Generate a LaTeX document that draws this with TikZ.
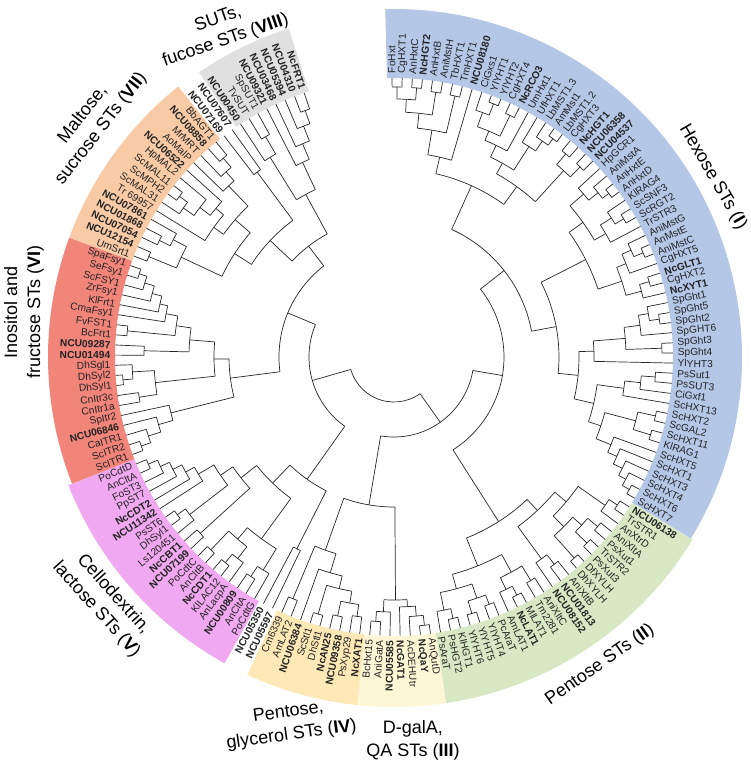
\documentclass[tikz,border=0pt]{standalone}
\usepackage{fontspec}
\setmainfont{Liberation Sans}
\definecolor{cHex}{RGB}{180,199,231}
\definecolor{cPen}{RGB}{216,232,196}
\definecolor{cGal}{RGB}{254,247,214}
\definecolor{cPgl}{RGB}{253,232,182}
\definecolor{cCel}{RGB}{240,168,240}
\definecolor{cIno}{RGB}{242,133,122}
\definecolor{cMal}{RGB}{248,202,165}
\definecolor{cSut}{RGB}{224,224,224}
\definecolor{cTxt}{RGB}{35,35,35}
\tikzset{
  br/.style={draw=black!85,line width=0.7pt},
  lbl/.style={font=\fontsize{10.2}{12}\selectfont,text=cTxt,inner sep=0.6pt},
  grp/.style={font=\fontsize{18}{23}\selectfont,align=center,text=black,inner sep=0pt}
}
% clade: name, radius, children (in leaf order)
\newcommand\cl[3]{%
  \gdef\clF{}%
  \foreach \q in {#3}{%
    \edef\qA{\csname TA\q\endcsname}%
    \edef\qR{\csname TR\q\endcsname}%
    \draw[br] (\qA:#2) -- (\qA:\qR);
    \ifx\clF\empty\xdef\clF{\qA}\fi
    \xdef\clL{\qA}%
  }%
  \draw[br] (\clF:#2) arc[start angle=\clF, end angle=\clL, radius=#2pt];
  \pgfmathsetmacro\clM{(\clF+\clL)/2}%
  \expandafter\xdef\csname TA#1\endcsname{\clM}%
  \expandafter\xdef\csname TR#1\endcsname{#2}%
}
\newcommand\lab[2]{%
  \pgfmathsetmacro\labA{\csname TA#1\endcsname}%
  \pgfmathsetmacro\labB{\labA+180}%
  \ifdim\labA pt>-90pt
    \node[lbl,anchor=west,rotate=\labA] (L#1) at (\labA:283) {#2};%
  \else
    \node[lbl,anchor=east,rotate=\labB] (L#1) at (\labA:283) {#2};%
  \fi}
\newcommand\band[5]{% name, first, last, colour, outer
  \pgfmathsetmacro\bandA{\csname TA#2\endcsname+1.04}%
  \pgfmathsetmacro\bandB{\csname TA#3\endcsname-1.04}%
  \fill[#4] (\bandA:279) arc[start angle=\bandA, end angle=\bandB, radius=279pt]
    -- (\bandB:#5) arc[start angle=\bandB, end angle=\bandA, radius=#5pt] -- cycle;}
\newcommand\B[1]{\textbf{#1}}
\begin{document}
\begin{tikzpicture}[x=1pt,y=1pt]
\useasboundingbox (-394,-406) rectangle (357,357);
\foreach \k in {1,...,165}{%
  \pgfmathsetmacro\tmpa{90.4-(\k-1)*2.083}%
  \expandafter\xdef\csname TA\k\endcsname{\tmpa}%
  \expandafter\xdef\csname TR\k\endcsname{279}%
}
% bands
\band{bHex}{1}{59}{cHex}{348}
\band{bPen}{60}{83}{cPen}{350}
\band{bGal}{84}{90}{cGal}{350}
\band{bPgl}{91}{99}{cPgl}{350}
\band{bCel}{102}{120}{cCel}{350}
\band{bIno}{121}{140}{cIno}{346}
\band{bMal}{141}{155}{cMal}{346}
\band{bSut}{158}{165}{cSut}{345}
% ---------- Hexose
\cl{h1}{270}{1,2}
\cl{h2}{270}{3,4}
\cl{h3}{258}{h1,h2}
\cl{h4}{268}{5,6}
\cl{h5}{245}{h3,h4}
\cl{h6}{268}{7,8}
\cl{h7}{230}{h5,h6}
\cl{h8}{205}{h7,9}
\cl{h9}{272}{11,12}
\cl{h10}{260}{10,h9}
\cl{h11}{268}{13,14}
\cl{h12}{245}{h10,h11}
\cl{h13}{235}{h12,15}
\cl{h14}{270}{18,19}
\cl{h15}{262}{17,h14}
\cl{h16}{250}{16,h15}
\cl{h17}{222}{h13,h16}
\cl{h18}{266}{20,21}
\cl{h19}{266}{22,23}
\cl{h20}{252}{h18,h19}
\cl{h21}{210}{h17,h20}
\cl{h22}{188}{h8,h21}
\cl{h23}{270}{26,27}
\cl{h24}{262}{25,h23}
\cl{h25}{250}{24,h24}
\cl{h26}{268}{29,30}
\cl{h27}{258}{28,h26}
\cl{h28}{245}{h27,31}
\cl{h29}{232}{h25,h28}
\cl{h30}{270}{33,34}
\cl{h31}{260}{32,h30}
\cl{h32}{250}{h31,35}
\cl{h33}{266}{36,37}
\cl{h34}{256}{h33,38}
\cl{h35}{240}{h32,h34}
\cl{h36}{215}{h29,h35}
\cl{h37}{268}{40,41}
\cl{h38}{258}{39,h37}
\cl{h39}{248}{h38,42}
\cl{h40}{268}{43,44}
\cl{h41}{232}{h39,h40}
\cl{h42}{200}{h41,45}
\cl{h43}{262}{46,47}
\cl{h44}{248}{h43,48}
\cl{h45}{232}{h44,49}
\cl{h46}{268}{50,51}
\cl{h47}{268}{52,53}
\cl{h48}{250}{h46,h47}
\cl{h49}{270}{58,59}
\cl{h50}{262}{57,h49}
\cl{h51}{254}{56,h50}
\cl{h52}{244}{55,h51}
\cl{h53}{234}{54,h52}
\cl{h54}{218}{h48,h53}
\cl{h55}{205}{h45,h54}
\cl{h56}{185}{h42,h55}
\cl{h57}{165}{h36,h56}
\cl{HEX}{140}{h22,h57}
% ---------- Pentose
\cl{p1}{268}{60,61}
\cl{p2}{258}{p1,62}
\cl{p3}{265}{63,64}
\cl{p4}{268}{65,66}
\cl{p5}{252}{p3,p4}
\cl{p6}{270}{67,68}
\cl{p7}{240}{p5,p6}
\cl{p8}{225}{p2,p7}
\cl{p9}{262}{69,70}
\cl{p10}{250}{p9,71}
\cl{p11}{210}{p8,p10}
\cl{p12}{262}{72,73}
\cl{p13}{268}{74,75}
\cl{p14}{258}{p13,76}
\cl{p15}{245}{p12,p14}
\cl{p16}{265}{77,78}
\cl{p17}{268}{79,80}
\cl{p18}{255}{p16,p17}
\cl{p19}{268}{81,82}
\cl{p20}{258}{p19,83}
\cl{p21}{240}{p18,p20}
\cl{p22}{225}{p15,p21}
\cl{PEN}{195}{p11,p22}
% ---------- D-galA
\cl{d1}{270}{84,85}
\cl{d2}{260}{d1,86}
\cl{d3}{250}{d2,87}
\cl{d4}{265}{89,90}
\cl{d5}{255}{88,d4}
\cl{GAL}{243}{d3,d5}
% ---------- pentose, glycerol
\cl{g1}{262}{91,92}
\cl{g2}{265}{93,94}
\cl{g3}{250}{g1,g2}
\cl{g4}{268}{95,96}
\cl{g5}{238}{g3,g4}
\cl{g6}{225}{g5,97}
\cl{g7}{262}{98,99}
\cl{PGL}{205}{g6,g7}
% ---------- cellodextrin
\cl{pa}{215}{100,101}
\cl{c1}{268}{119,120}
\cl{c2}{258}{118,c1}
\cl{c3}{248}{117,c2}
\cl{c4}{238}{116,c3}
\cl{c5}{228}{115,c4}
\cl{c6}{268}{113,114}
\cl{c7}{258}{112,c6}
\cl{c8}{210}{c7,c5}
\cl{c9}{262}{110,111}
\cl{c10}{195}{c9,c8}
\cl{c11}{266}{108,109}
\cl{c12}{266}{106,107}
\cl{c13}{255}{105,c12}
\cl{c14}{240}{c13,c11}
\cl{c15}{262}{103,104}
\cl{c16}{250}{102,c15}
\cl{c17}{225}{c16,c14}
\cl{CEL}{175}{c17,c10}
\cl{CELb}{150}{pa,CEL}
% ---------- inositol
\cl{i1}{268}{139,140}
\cl{i2}{260}{138,i1}
\cl{i3}{250}{137,i2}
\cl{i4}{240}{136,i3}
\cl{i5}{232}{135,i4}
\cl{i6}{268}{133,134}
\cl{i7}{220}{i6,i5}
\cl{i8}{250}{131,132}
\cl{i9}{205}{i8,i7}
\cl{i10}{272}{128,129}
\cl{i11}{262}{i10,130}
\cl{i12}{258}{126,127}
\cl{i13}{240}{i12,i11}
\cl{i14}{180}{i13,i9}
\cl{i15}{268}{121,122}
\cl{i16}{258}{i15,123}
\cl{i17}{245}{i16,124}
\cl{i18}{230}{i17,125}
\cl{INO}{165}{i18,i14}
% ---------- maltose
\cl{m1}{262}{154,155}
\cl{m2}{250}{153,m1}
\cl{m3}{238}{152,m2}
\cl{m5}{268}{148,149}
\cl{m6}{258}{147,m5}
\cl{m7}{245}{m6,150}
\cl{m8}{232}{m7,151}
\cl{m9}{222}{146,m8}
\cl{m10}{210}{m9,m3}
\cl{m11}{265}{141,142}
\cl{m12}{262}{143,144}
\cl{m13}{250}{m12,145}
\cl{m14}{235}{m11,m13}
\cl{MAL}{190}{m14,m10}
\cl{n1}{230}{156,157}
\cl{MALp}{170}{MAL,n1}
% ---------- SUT
\cl{s1}{262}{164,165}
\cl{s2}{248}{163,s1}
\cl{s3}{232}{162,s2}
\cl{s4}{215}{161,s3}
\cl{s5}{255}{159,160}
\cl{s6}{235}{158,s5}
\cl{SUT}{185}{s6,s4}
\cl{X1}{140}{MALp,SUT}
% ---------- backbone
\cl{T1}{110}{HEX,PEN}
\cl{T2}{150}{GAL,PGL}
\cl{T3}{80}{T1,T2}
\cl{T5}{115}{INO,X1}
\cl{T6}{85}{CELb,T5}
\cl{ROOT}{45}{T3,T6}
% ---------- labels
\lab{1}{FoHxt}\lab{2}{CgHXT1}\lab{3}{AnHxtC}\lab{4}{\B{NcHGT2}}\lab{5}{AnHxtB}
\lab{6}{AniMstH}\lab{7}{TbHXT1}\lab{8}{TmHXT1}\lab{9}{\B{NCU08180}}\lab{10}{CiGxs1}
\lab{11}{YlYHT1}\lab{12}{YlYHT2}\lab{13}{CgHXT4}\lab{14}{\B{NcRCO3}}\lab{15}{UmHxt1}
\lab{16}{UfHXT1}\lab{17}{LbMST1.3}\lab{18}{AmMst1}\lab{19}{LbMST1.2}\lab{20}{CgHXT3}
\lab{21}{\B{NcHGT1}}\lab{22}{\B{NCU06358}}\lab{23}{\B{NCU04537}}\lab{24}{HpGCR1}\lab{25}{AniMstA}
\lab{26}{AnHxtE}\lab{27}{AnHxtD}\lab{28}{KlRAG4}\lab{29}{ScSNF3}\lab{30}{ScRGT2}
\lab{31}{TrSTR3}\lab{32}{AniMstG}\lab{33}{AnMstE}\lab{34}{AniMstC}\lab{35}{CgHXT5}
\lab{36}{\B{NcGLT1}}\lab{37}{CgHXT2}\lab{38}{\B{NcXYT1}}\lab{39}{SpGht1}\lab{40}{SpGht5}
\lab{41}{SpGht2}\lab{42}{SpGHT6}\lab{43}{SpGht3}\lab{44}{SpGht4}\lab{45}{YlYHT3}
\lab{46}{PsSut1}\lab{47}{PsSUT3}\lab{48}{CiGxf1}\lab{49}{ScHXT13}\lab{50}{ScHXT2}
\lab{51}{ScGAL2}\lab{52}{ScHXT11}\lab{53}{KlRAG1}\lab{54}{ScHXT5}\lab{55}{ScHXT1}
\lab{56}{ScHXT3}\lab{57}{ScHXT4}\lab{58}{ScHXT6}\lab{59}{ScHXT7}
\lab{60}{\B{NCU06138}}\lab{61}{TrSTR1}\lab{62}{AnXtrD}\lab{63}{AniXltA}\lab{64}{PsXut1}
\lab{65}{TrSTR2}\lab{66}{PsXut3}\lab{67}{DfXYLH}\lab{68}{DhXYLH}\lab{69}{AniXltB}
\lab{70}{\B{NCU01813}}\lab{71}{\B{NCU08152}}\lab{72}{AniXltC}\lab{73}{Tm2281}\lab{74}{MlLAT1}
\lab{75}{\B{NcLAT1}}\lab{76}{AmLAT1}\lab{77}{PcAraT}\lab{78}{YlYHT4}\lab{79}{YlYHT5}
\lab{80}{YlYHT6}\lab{81}{KlHGT1}\lab{82}{PsHGT2}\lab{83}{PsAraT}
\lab{84}{AnQutD}\lab{85}{\B{NcQaY}}\lab{86}{AcDEHUtr}\lab{87}{\B{NcGAT1}}\lab{88}{\B{NCU05585}}
\lab{89}{AniGatA}\lab{90}{BcHxt15}
\lab{91}{\B{NcXAT1}}\lab{92}{PsXyp29}\lab{93}{\B{NCU09358}}\lab{94}{\B{NcAN25}}\lab{95}{DhStl1}
\lab{96}{ScStl1}\lab{97}{\B{NCU06384}}\lab{98}{AmLAT2}\lab{99}{Cm6339}
\lab{100}{\B{NCU05597}}\lab{101}{\B{NCU05350}}
\lab{102}{PoCdtG}\lab{103}{AnCltA}\lab{104}{\B{NCU00809}}\lab{105}{AnLacpA}\lab{106}{KlLAC12}
\lab{107}{\B{NcCDT1}}\lab{108}{AnCltB}\lab{109}{PoCdtC}\lab{110}{\B{NCU07199}}\lab{111}{\B{NcCBT1}}
\lab{112}{Ls120451}\lab{113}{DhSyl1}\lab{114}{PsST6}\lab{115}{\B{NCU11342}}\lab{116}{\B{NcCDT2}}
\lab{117}{PpST7}\lab{118}{FoST3}\lab{119}{AnCltA}\lab{120}{PoCdtD}
\lab{121}{ScITR1}\lab{122}{ScITR2}\lab{123}{CaITR1}\lab{124}{\B{NCU06846}}\lab{125}{SpItr2}
\lab{126}{CnItr1a}\lab{127}{CnItr3c}\lab{128}{DhSyl1}\lab{129}{DhSyl2}\lab{130}{DhSgl1}
\lab{131}{\B{NCU01494}}\lab{132}{\B{NCU09287}}\lab{133}{BcFrt1}\lab{134}{FvFST1}\lab{135}{CmaFsy1}
\lab{136}{KlFrt1}\lab{137}{ZrFsy1}\lab{138}{ScFSY1}\lab{139}{SeFsy1}\lab{140}{SpaFsy1}
\lab{141}{UmSrt1}\lab{142}{\B{NCU12154}}\lab{143}{\B{NCU07054}}\lab{144}{\B{NCU01868}}\lab{145}{\B{NCU07861}}
\lab{146}{Tr 69957}\lab{147}{ScMAL31}\lab{148}{ScMPH2}\lab{149}{ScMAL11}\lab{150}{HpMAL2}
\lab{151}{\B{NCU06522}}\lab{152}{AoMalP}\lab{153}{MrMRT}\lab{154}{\B{NCU08858}}\lab{155}{BbAGT1}
\lab{156}{\B{NCU07169}}\lab{157}{\B{NCU07607}}
\lab{158}{\B{NCU00450}}\lab{159}{TvSUT}\lab{160}{SpSUT1}\lab{161}{\B{NCU09321}}\lab{162}{\B{NCU03468}}
\lab{163}{\B{NCU05394}}\lab{164}{\B{NCU04310}}\lab{165}{\B{NcFRT1}}
% ---------- group titles
\node[grp,rotate=19] (gVIII) at (-172,327) {SUTs,\\fucose STs (\B{VIII})};
\node[grp,rotate=-60] (gI) at (319,180) {Hexose STs (\B{I})};
\node[grp,rotate=35] (gII) at (206,-308) {Pentose STs (\B{II})};
\node[grp] (gIII) at (19,-383) {D-galA,\\QA STs (\B{III})};
\node[grp,rotate=8] (gIV) at (-104,-367) {Pentose,\\glycerol STs (\B{IV})};
\node[grp,rotate=-48] (gV) at (-289,-245) {Cellodextrin,\\lactose STs (\B{V})};
\node[grp,rotate=90] (gVI) at (-370,45) {Inositol and\\fructose STs (\B{VI})};
\node[grp,rotate=52] (gVII) at (-302,235) {Maltose,\\sucrose STs (\B{VII})};
\end{tikzpicture}
\end{document}
